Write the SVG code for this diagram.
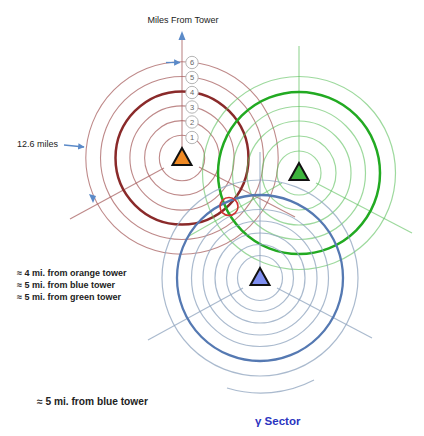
<svg xmlns="http://www.w3.org/2000/svg" width="424" height="436" viewBox="0 0 424 436">
<defs>
<style>
.or{fill:none;stroke:#a86262;stroke-opacity:.75;stroke-width:1.1}
.ot{fill:none;stroke:#8a2a2a;stroke-width:2.5}
.gr{fill:none;stroke:#5cbf5c;stroke-opacity:.6;stroke-width:1.2}
.gt{fill:none;stroke:#22aa22;stroke-width:2.5}
.br{fill:none;stroke:#8ea3bd;stroke-opacity:.75;stroke-width:1.2}
.bt{fill:none;stroke:#5579b2;stroke-width:2.3}
.tri{stroke:#111;stroke-width:2;stroke-linejoin:miter}
.lbl circle{fill:#fff;stroke:#b5b5b5;stroke-width:1}
.lbl text{font-family:"Liberation Sans",Arial,sans-serif;font-size:7.5px;fill:#666;text-anchor:middle}
.t{font-family:"Liberation Sans",Arial,sans-serif;fill:#222}
.b{font-weight:bold;font-size:9px}
.arr{stroke:#5b8ac8;stroke-width:1.3;fill:none}
</style>
<marker id="ah" viewBox="0 0 10 10" refX="9" refY="5" markerWidth="5" markerHeight="5" orient="auto"><path d="M0,0L10,5L0,10z" fill="#5b8ac8"/></marker>
</defs>
<rect width="424" height="436" fill="#fff"/>

<g id="orange-tower">
<circle class="or" cx="182" cy="158" r="22.7"/>
<circle class="or" cx="182" cy="158" r="37.4"/>
<circle class="or" cx="182" cy="158" r="52.1"/>
<circle class="or" cx="182" cy="158" r="81.5"/>
<circle class="or" cx="182" cy="158" r="96.2"/>
<line class="or" x1="182" y1="148" x2="182" y2="40"/>
<line class="or" x1="164" y1="168" x2="70" y2="219"/>
<line class="or" x1="199" y1="167" x2="295" y2="217"/>
<circle class="ot" cx="182" cy="158" r="66.5"/>
</g>

<g id="green-tower">
<circle class="gr" cx="299" cy="173" r="22"/>
<circle class="gr" cx="299" cy="173" r="37"/>
<circle class="gr" cx="299" cy="173" r="52"/>
<circle class="gr" cx="299" cy="173" r="66.5"/>
<circle class="gr" cx="299" cy="173" r="96.5"/>
<line class="gr" x1="299" y1="163" x2="299" y2="46"/>
<line class="gr" x1="282" y1="183" x2="189" y2="236"/>
<line class="gr" x1="316" y1="183" x2="412" y2="233"/>
<circle class="gt" cx="299" cy="173" r="81"/>
</g>

<g id="blue-tower">
<circle class="br" cx="260" cy="278" r="22.5"/>
<circle class="br" cx="260" cy="278" r="33.5"/>
<circle class="br" cx="260" cy="278" r="45"/>
<circle class="br" cx="260" cy="278" r="57"/>
<circle class="br" cx="260" cy="278" r="68.5"/>
<circle class="br" cx="260" cy="278" r="98"/>
<path class="br" d="M227,388 A115,115 0 0 0 314,380"/>
<line class="br" x1="260" y1="268" x2="260" y2="152"/>
<line class="br" x1="243" y1="288" x2="148" y2="340"/>
<line class="br" x1="277" y1="288" x2="372" y2="338"/>
<circle class="bt" cx="260" cy="278" r="83"/>
</g>

<g id="tower-icons">
<polygon class="tri" points="182,148 172.5,165 191.5,165" fill="#f08a24"/>
<polygon class="tri" points="299,163 289.5,180 308.5,180" fill="#3cb43c"/>
<polygon class="tri" points="260,268 250.5,285 269.5,285" fill="#7f8ff0"/>
</g>

<g id="ring-labels" class="lbl">
<circle cx="192" cy="137.5" r="6.2"/><text x="192" y="140.2">1</text>
<circle cx="192" cy="122" r="6.2"/><text x="192" y="124.7">2</text>
<circle cx="192" cy="107" r="6.2"/><text x="192" y="109.7">3</text>
<circle cx="192" cy="92.5" r="6.2"/><text x="192" y="95.2">4</text>
<circle cx="192" cy="77.5" r="6.2"/><text x="192" y="80.2">5</text>
<circle cx="192" cy="62.5" r="6.2"/><text x="192" y="65.2">6</text>
</g>

<g id="intersection">
<circle cx="229" cy="206.5" r="9" fill="none" stroke="#d03333" stroke-width="1.6"/>
</g>

<g id="connectors">
<polygon points="182,31 178.5,40 185.5,40" fill="#5b8ac8"/>
<line class="arr" x1="166" y1="62.5" x2="180" y2="62.5" marker-end="url(#ah)"/>
<line class="arr" x1="64" y1="145" x2="84" y2="147" marker-end="url(#ah)"/>
<polygon points="89,194 96,196 93,203" fill="#5b8ac8"/>
</g>

<g id="labels">
<text class="t" x="183" y="23" font-size="9" text-anchor="middle">Miles From Tower</text>
<text class="t" x="17" y="147" font-size="9">12.6 miles</text>
<text class="t b" x="17" y="276">≈ 4 mi. from orange tower</text>
<text class="t b" x="17" y="288">≈ 5 mi. from blue tower</text>
<text class="t b" x="17" y="300">≈ 5 mi. from green tower</text>
<text class="t" x="37" y="405" font-size="10.2" font-weight="bold">≈ 5 mi. from blue tower</text>
<text x="255" y="425" font-family="Liberation Sans,Arial,sans-serif" font-size="11.5" font-weight="bold" fill="#2b35c0">γ Sector</text>
</g>
</svg>
